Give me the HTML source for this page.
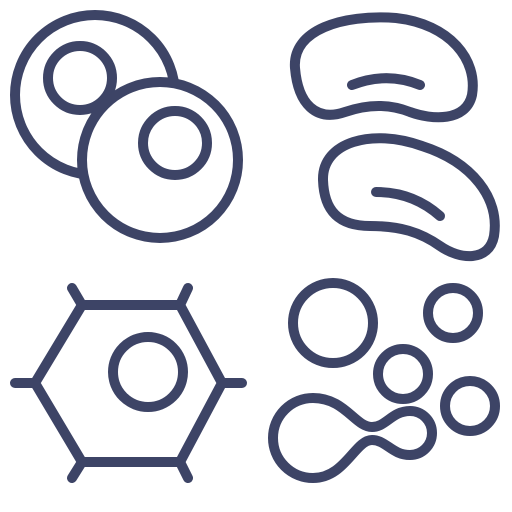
<!DOCTYPE html>
<html><head><meta charset="utf-8"><style>html,body{margin:0;padding:0;background:#fff}svg{display:block}</style></head>
<body>
<svg width="512" height="512" viewBox="0 0 512 512" fill="none" stroke="#3d4466" stroke-width="10" stroke-linecap="round" stroke-linejoin="round">
  <g>
    <circle cx="95" cy="95" r="80"/>
    <circle cx="80" cy="78" r="32"/>
    <circle cx="160" cy="160" r="78" fill="#fff"/>
    <circle cx="175" cy="143" r="32"/>
  </g>
  <g>
    <path d="M295,68 C292,30 342,14 396,18 C450,24 478,60 472,95 C466,122 432,120 410,112 C390,104 368,104 345,112 C316,122 298,104 295,68 Z"/>
    <path d="M352,85 C375,76 398,76 420,85"/>
    <path d="M323,180 C322,142 372,128 422,146 C472,162 500,198 494,236 C489,262 460,260 440,246 C420,232 400,226 370,226 C338,226 324,210 323,180 Z"/>
    <path d="M376,192 C400,192 422,200 440,216"/>
  </g>
  <g>
    <polygon points="35,383 82,305 180,305 222,383 180,462 82,462"/>
    <path d="M15,383 H35 M222,383 H242 M82,305 L72,288 M180,305 L188,288 M82,462 L72,478 M180,462 L188,478"/>
    <circle cx="148" cy="372" r="35"/>
  </g>
  <g>
    <circle cx="333" cy="323" r="40"/>
    <circle cx="453" cy="313" r="25"/>
    <circle cx="403" cy="374" r="25"/>
    <circle cx="470" cy="406" r="25"/>
    <path d="M313,398 C345,398 355,427 372,427 C386,427 392,411 410,411 A22,22 0 0 1 410,455 C392,455 386,440 372,440 C355,440 345,478 313,478 A40,40 0 0 1 313,398 Z"/>
  </g>
</svg>
</body></html>
